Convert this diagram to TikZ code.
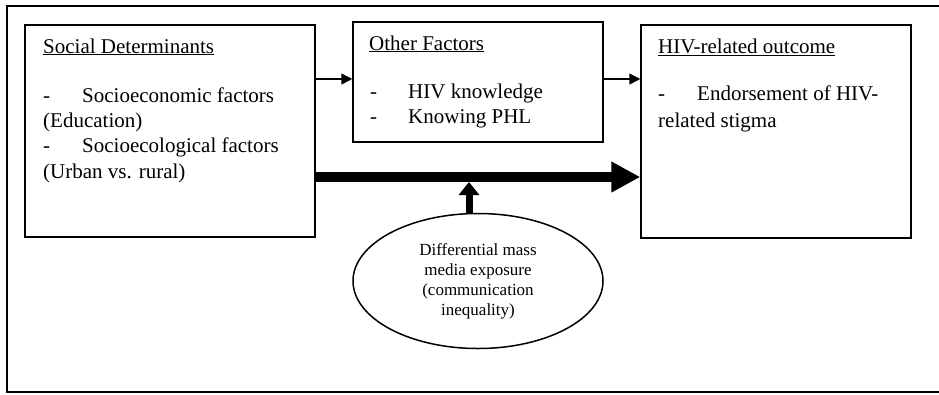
\documentclass[tikz,border=0pt]{standalone}
\usepackage{fontspec}
\setmainfont{Liberation Serif}
\usetikzlibrary{arrows.meta,shapes.geometric,calc}
\begin{document}
\begin{tikzpicture}[x=1pt,y=-1pt,
  box/.style={draw,line width=1.5pt,rectangle,inner sep=0pt},
  txt/.style={anchor=base west,inner sep=0pt,font=\fontsize{21}{25}\selectfont},
  thin/.style={line width=1.5pt,-{Triangle[length=11pt,width=11pt]}},
  thick/.style={line width=10pt,-{Triangle[length=29pt,width=29pt]}}]
\useasboundingbox (0,0) rectangle (939,394);
\draw[line width=1.5pt] (939,6) -- (7,6) -- (7,392) -- (939,392);
% boxes
\node[box,minimum width=290pt,minimum height=212pt] (sd) at (170,131) {};
\node[box,minimum width=250pt,minimum height=120pt] (of) at (478,82) {};
\node[box,minimum width=270pt,minimum height=213pt] (ho) at (776,131.5) {};
\node[draw,ellipse,line width=1.5pt,minimum width=250pt,minimum height=135pt,inner sep=0pt,align=center,font=\fontsize{17}{20}\selectfont] (ell) at (478,281)
  {Differential mass\\media exposure\\(communication\\inequality)};
% texts
\node[txt] (t1) at (43,53) {\underline{Social Determinants}};
\node[txt] (t2) at (43,102) {-};
\node[txt] (t3) at (82,102) {Socioeconomic factors};
\node[txt] (t4) at (43,127) {(Education)};
\node[txt] (t5) at (43,152) {-};
\node[txt] (t6) at (82,152) {Socioecological factors};
\node[txt] (t7) at (43,178) {(Urban vs. rural)};
\node[txt] (o1) at (369,50) {\underline{Other Factors}};
\node[txt] (o2) at (370,98) {-};
\node[txt] (o3) at (408,98) {HIV knowledge};
\node[txt] (o4) at (370,123) {-};
\node[txt] (o5) at (408,123) {Knowing PHL};
\node[txt] (h1) at (658,53) {\underline{HIV-related outcome}};
\node[txt] (h2) at (658,100) {-};
\node[txt] (h3) at (697,100) {Endorsement of HIV-};
\node[txt] (h4) at (658,127) {related stigma};
% connectors
\coordinate (a1) at (sd.east |- 0,79);
\coordinate (a2) at (of.west |- 0,79);
\coordinate (a3) at (of.east |- 0,79);
\coordinate (a4) at (ho.west |- 0,79);
\draw[thin] (a1) -- (a2);
\draw[thin] (a3) -- (a4);
\coordinate (b1) at (sd.east |- 0,177);
\coordinate (b2) at (ho.west |- 0,177);
\draw[thick] (b1) -- (b2);
\coordinate (c1) at ($(ell.north)+(-9,1)$);
\coordinate (c2) at (c1 |- 0,182);
\draw[line width=7pt,-{Triangle[length=13pt,width=20pt]}] (c1) -- (c2);
\end{tikzpicture}
\end{document}
